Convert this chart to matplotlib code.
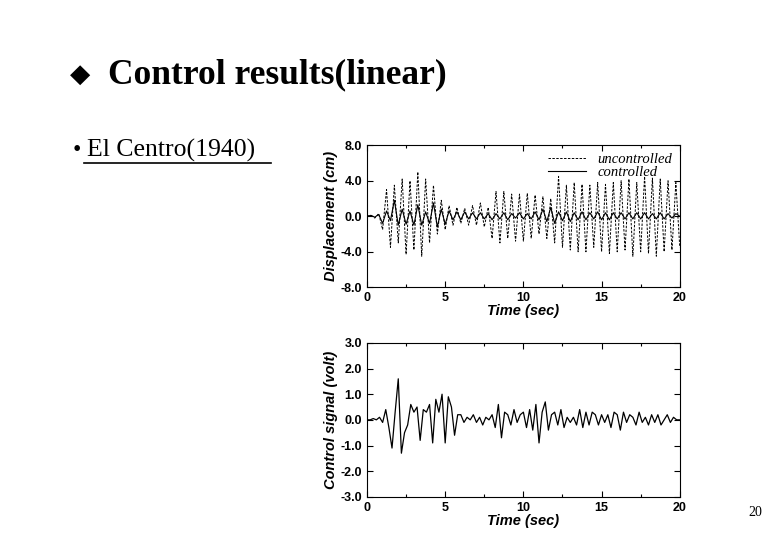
import numpy as np
import matplotlib
matplotlib.use("Agg")
import matplotlib.pyplot as plt

# Displacement peaks (cm), every 0.25 s
t_disp = np.arange(0, 20.01, 0.25)
uncontrolled = [0,0.1,-0.2,0.3,
 -1.5,3.0,-3.5,3.5, -3.0,4.2,-4.3,4.0, -3.8,5.0,-4.5,4.2, -3.0,3.5,-2.0,1.8,
 -1.5,1.2,-1.0,1.0, -0.8,0.9,-1.0,1.2, -1.0,1.5,-1.2,1.0, -2.5,2.8,-3.0,2.8,
 -2.5,2.5,-2.8,2.5, -2.8,2.6,-2.5,2.4, -2.0,2.2,-2.5,2.0, -3.0,4.5,-3.5,3.5,
 -3.8,3.8,-4.0,3.6, -4.0,3.5,-3.5,3.8, -4.0,3.6,-4.2,3.8, -4.0,4.0,-3.8,4.2,
 -4.5,3.8,-4.0,4.5, -4.2,4.3,-4.5,4.2, -4.0,4.0,-3.8,3.8, -3.5]
controlled = [0,0.1,-0.1,0.2,
 -0.8,0.6,-0.5,1.8, -1.0,0.8,-0.9,0.6, -1.0,1.3,-1.0,0.5, -0.8,1.5,-1.2,0.8,
 -0.9,0.6,-0.4,0.5, -0.4,0.5,-0.3,0.4, -0.3,0.4,-0.3,0.3, -0.4,0.3,-0.3,0.4,
 -0.4,0.3,-0.2,0.4, -0.3,0.3,-0.3,0.5, -0.4,0.8,-0.6,1.0, -0.8,0.5,-0.5,0.5,
 -0.6,0.4,-0.4,0.5, -0.4,0.4,-0.3,0.5, -0.4,0.4,-0.4,0.4, -0.3,0.4,-0.3,0.4,
 -0.3,0.4,-0.3,0.4, -0.3,0.3,-0.3,0.4, -0.3,0.3,-0.2,0.3, 0.0]

# Control signal (volt), every 0.2 s
t_sig = np.arange(0, 20.01, 0.2)
signal = [0.0,0.0,0.05,0.0,0.1,-0.1,
 0.4,-0.3,-1.1,0.3,1.6,-1.3,-0.5,-0.2,0.6,0.3,0.5,-0.8,0.4,0.3,
 0.6,-0.9,0.8,0.3,1.0,-0.9,0.9,0.5,-0.6,0.2,0.2,-0.1,0.1,0.0,0.2,-0.1,0.1,-0.2,0.1,0.0,
 0.2,-0.3,0.6,-0.7,0.3,0.2,-0.2,0.4,-0.1,0.2,0.3,-0.3,0.4,-0.4,0.6,-0.9,0.3,0.7,-0.4,0.2,
 0.3,-0.2,0.4,-0.3,0.1,-0.1,0.1,-0.2,0.4,-0.3,0.3,-0.2,0.3,0.2,-0.2,0.2,-0.1,0.2,-0.3,0.3,
 0.2,-0.4,0.3,-0.1,0.2,0.1,-0.2,0.3,-0.1,0.1,-0.2,0.2,-0.1,0.2,-0.2,0.0,0.2,-0.1,0.1,0.0,0.0]

fig = plt.figure(figsize=(7.8, 5.4), dpi=100)
fig.patch.set_facecolor("white")

fig.text(0.090, 0.862, "\u25c6", fontsize=19, family="DejaVu Sans", va="center")
fig.text(0.138, 0.862, "Control results(linear)", fontsize=25.5, fontweight="bold",
         family="Liberation Serif", va="center")
fig.text(0.093, 0.722, "\u2022 ", fontsize=17, family="Liberation Serif", va="center")
fig.text(0.112, 0.722, "El Centro(1940)", fontsize=18.5, family="Liberation Serif",
         va="center")
fig.add_artist(plt.Line2D([0.108, 0.348], [0.698, 0.698], color="black", lw=1.2))
fig.text(0.968, 0.05, "20", fontsize=10, family="Liberation Serif", va="center", ha="center")

lab = dict(family="Liberation Sans", fontweight="bold", fontstyle="italic", fontsize=10.5)
tk = dict(family="Liberation Sans", fontweight="bold", fontsize=9)

def style(ax, yt, ylbl):
    ax.set_xlim(0, 20)
    ax.set_xticks([0, 5, 10, 15, 20])
    ax.set_xticklabels(["0", "5", "10", "15", "20"], **tk)
    ax.set_xticks(np.arange(0, 20.1, 2.5), minor=True)
    ax.set_yticks(yt)
    ax.set_yticklabels(ylbl, **tk)
    ax.tick_params(direction="in", top=True, right=True, which="both", length=4, width=0.8)
    ax.tick_params(which="minor", length=2)
    ax.set_xlabel("Time (sec)", labelpad=0, **lab)
    for s in ax.spines.values():
        s.set_linewidth(0.8)

ax1 = fig.add_axes([0.4705, 0.468, 0.401, 0.263])
ax1.plot(t_disp, uncontrolled, "k--", lw=0.7, dashes=(2.5, 1.5), label="uncontrolled")
ax1.plot(t_disp, controlled, "k-", lw=0.8, label="controlled")
ax1.set_ylim(-8, 8)
style(ax1, [-8, -4, 0, 4, 8], ["-8.0", "-4.0", "0.0", "4.0", "8.0"])
ax1.set_ylabel("Displacement (cm)", labelpad=2, **lab)
ax1.legend(loc="upper right", frameon=False, handlelength=2.6, borderaxespad=0.1,
           labelspacing=0.0, prop=dict(family="Liberation Serif", style="italic", size=10.5))

ax2 = fig.add_axes([0.4705, 0.08, 0.401, 0.285])
ax2.plot(t_sig, signal, "k-", lw=0.9)
ax2.set_ylim(-3, 3)
style(ax2, [-3, -2, -1, 0, 1, 2, 3], ["-3.0", "-2.0", "-1.0", "0.0", "1.0", "2.0", "3.0"])
ax2.set_ylabel("Control signal (volt)", labelpad=2, **lab)

fig.savefig("out.png", dpi=100, facecolor="white")
